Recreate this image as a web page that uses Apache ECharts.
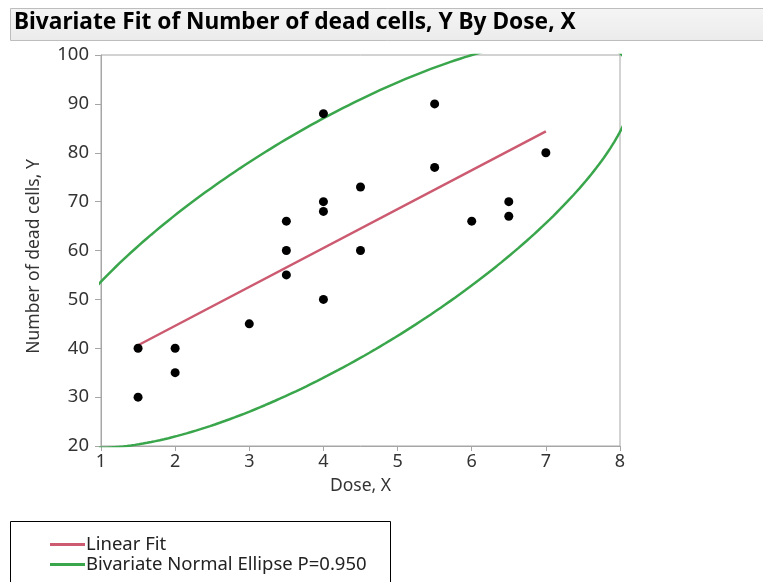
<!DOCTYPE html>
<html>
<head>
<meta charset="utf-8">
<script src="https://cdn.jsdelivr.net/npm/echarts@6/dist/echarts.min.js"></script>
<style>
  html, body { margin: 0; padding: 0; background: #fff; }
  #chart { width: 763px; height: 582px; }
</style>
</head>
<body>
<div id="chart"></div>
<script>
// Dose, X and Number of dead cells, Y
const dose = [1.5, 1.5, 2, 2, 3, 3.5, 3.5, 3.5, 4, 4, 4, 4, 4.5, 4.5, 5.5, 5.5, 6, 6.5, 6.5, 7]
const deadCells = [40, 30, 40, 35, 45, 66, 60, 55, 88, 70, 68, 50, 73, 60, 90, 77, 66, 70, 67, 80]
const xTicks = [1, 8, 1] // min, max, interval
const yTicks = [20, 100, 10]
const ellipseP = 0.95

const FONT = 'Noto Sans'

// least squares fit and bivariate normal ellipse, from the points
const n = dose.length
const mx = dose.reduce((a, b) => a + b, 0) / n
const my = deadCells.reduce((a, b) => a + b, 0) / n
let sxx = 0, syy = 0, sxy = 0
for (let i = 0; i < n; i++) {
  sxx += (dose[i] - mx) ** 2
  syy += (deadCells[i] - my) ** 2
  sxy += (dose[i] - mx) * (deadCells[i] - my)
}
const slope = sxy / sxx
const intercept = my - slope * mx
const xMin = Math.min(...dose)
const xMax = Math.max(...dose)
const fitLine = [[xMin, intercept + slope * xMin], [xMax, intercept + slope * xMax]]

const sdx = Math.sqrt(sxx / (n - 1))
const sdy = Math.sqrt(syy / (n - 1))
const r = sxy / Math.sqrt(sxx * syy)
const c = Math.sqrt(-2 * Math.log(1 - ellipseP))
const ellipse = []
for (let k = 0; k <= 360; k++) {
  const t = k * Math.PI / 180
  ellipse.push([
    mx + c * sdx * Math.cos(t),
    my + c * sdy * (r * Math.cos(t) + Math.sqrt(1 - r * r) * Math.sin(t))
  ])
}

const points = dose.map((x, i) => [x, deadCells[i]])

const myChart = echarts.init(document.getElementById('chart'))
const axisGray = '#a6a6a6'
const fitRed = '#cc5a70'
const ellipseGreen = '#3aa64c'

function legendItem (name, top) {
  return {
    orient: 'vertical',
    left: 50,
    top: top,
    padding: 0,
    itemWidth: 35,
    itemHeight: 3,
    icon: 'rect',
    data: [name],
    selectedMode: false,
    textStyle: {
      fontFamily: FONT,
      fontSize: 18.5,
      color: '#222',
      padding: [0, 0, 0, -4]
    }
  }
}

const option = {
  backgroundColor: '#fff',
  animation: false,
  graphic: [
    {
      type: 'rect',
      shape: { x: 10.5, y: 8.5, width: 760, height: 32 },
      style: {
        fill: new echarts.graphic.LinearGradient(0, 0, 0, 1, [
          { offset: 0, color: '#f5f5f5' },
          { offset: 1, color: '#ebebeb' }
        ]),
        stroke: '#bdbdbd',
        lineWidth: 1
      }
    },
    {
      type: 'text',
      left: 14,
      top: 11,
      style: {
        text: 'Bivariate Fit of Number of dead cells, Y By Dose, X',
        font: 'bold 22.7px "' + FONT + '"',
        fill: '#000'
      }
    },
    {
      type: 'rect',
      shape: { x: 10.5, y: 521.5, width: 380, height: 90 },
      style: { fill: 'none', stroke: '#000', lineWidth: 1 }
    }
  ],
  grid: {
    left: 101,
    right: 143,
    top: 55,
    bottom: 136,
    show: true,
    borderColor: axisGray,
    borderWidth: 1
  },
  legend: [
    legendItem('Linear Fit', 535),
    legendItem('Bivariate Normal Ellipse P=0.950', 555)
  ],
  xAxis: {
    type: 'value',
    min: xTicks[0],
    max: xTicks[1],
    interval: xTicks[2],
    name: 'Dose, X',
    nameLocation: 'middle',
    nameGap: 31,
    nameTextStyle: { fontFamily: FONT, fontSize: 17.5, color: '#333' },
    axisLine: { lineStyle: { color: axisGray } },
    axisTick: { length: 5, lineStyle: { color: axisGray } },
    axisLabel: { fontFamily: FONT, fontSize: 18, color: '#333', margin: 7 },
    splitLine: { show: false }
  },
  yAxis: {
    type: 'value',
    min: yTicks[0],
    max: yTicks[1],
    interval: yTicks[2],
    name: 'Number of dead cells, Y',
    nameLocation: 'middle',
    nameGap: 58,
    nameTextStyle: { fontFamily: FONT, fontSize: 17.5, color: '#333', padding: [0, 12, 0, 0] },
    axisLine: { show: true, lineStyle: { color: axisGray } },
    axisTick: { show: true, length: 6, lineStyle: { color: axisGray } },
    axisLabel: { fontFamily: FONT, fontSize: 18.5, color: '#333', margin: 12 },
    splitLine: { show: false }
  },
  series: [
    {
      name: 'Bivariate Normal Ellipse P=0.950',
      type: 'line',
      data: ellipse,
      showSymbol: false,
      clip: true,
      color: ellipseGreen,
      lineStyle: { width: 2.5, color: ellipseGreen },
      z: 2
    },
    {
      name: 'Linear Fit',
      type: 'line',
      data: fitLine,
      showSymbol: false,
      clip: true,
      color: fitRed,
      lineStyle: { width: 2.5, color: fitRed },
      z: 3
    },
    {
      name: 'points',
      type: 'scatter',
      data: points,
      symbolSize: 9,
      itemStyle: { color: '#000', opacity: 1 },
      z: 4
    }
  ]
}

option && myChart.setOption(option)
</script>
</body>
</html>
